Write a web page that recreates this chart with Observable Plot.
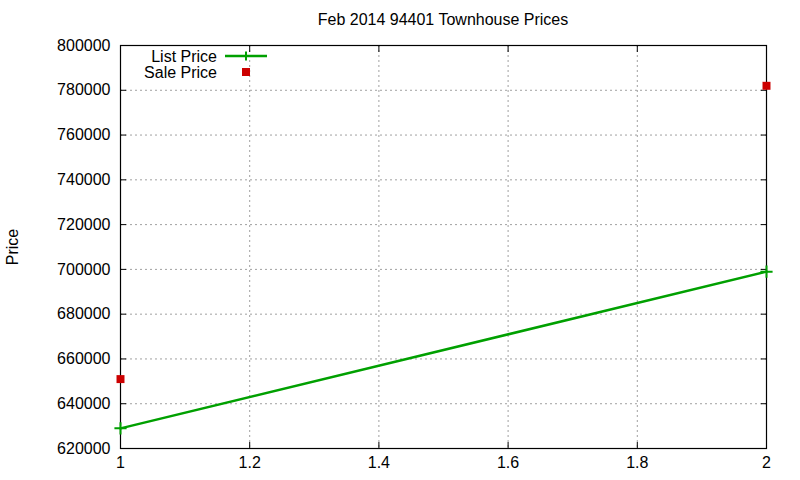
<!DOCTYPE html>
<html>
<head>
<meta charset="utf-8">
<script src="https://cdn.jsdelivr.net/npm/d3@7"></script>
<script src="https://cdn.jsdelivr.net/npm/@observablehq/plot@0.6"></script>
<style>
  html, body { margin: 0; padding: 0; background: #fff; }
  #wrap { position: relative; width: 800px; height: 480px; font-family: "Liberation Sans", Arial, sans-serif; }
  #title { position: absolute; top: 11px; left: 120px; width: 646px; text-align: center; font-size: 16px; color: #000; }
  #legend { position: absolute; left: 0; top: 0; pointer-events: none; }
</style>
</head>
<body>
<div id="wrap">
  <div id="chart"></div>
  <div id="title">Feb 2014 94401 Townhouse Prices</div>
  <svg id="legend" width="800" height="480"></svg>
</div>
<script>
const title = "Feb 2014 94401 Townhouse Prices";
const xValues = [1, 2];
const listPrice = [629000, 699000];
const salePrice = [651000, 782000];
const xTicks = [1, 1.2, 1.4, 1.6, 1.8, 2];
const yTicks = [620000, 640000, 660000, 680000, 700000, 720000, 740000, 760000, 780000, 800000];
const seriesNames = ["List Price", "Sale Price"];
const listColor = "#00a000";
const saleColor = "#cc0000";

const listData = xValues.map((x, i) => ({x, y: listPrice[i]}));
const saleData = xValues.map((x, i) => ({x, y: salePrice[i]}));

const fmtX = d => String(+d.toFixed(1));
const fmtY = d3.format("d");

const chart = Plot.plot({
  width: 800,
  height: 480,
  marginLeft: 120,
  marginRight: 34,
  marginTop: 45,
  marginBottom: 32,
  style: {fontFamily: "Liberation Sans, Arial, sans-serif", fontSize: "16px", color: "#000", background: "#fff"},
  x: {domain: [1, 2], ticks: xTicks},
  y: {domain: [620000, 800000], ticks: yTicks},
  marks: [
    Plot.gridX(xTicks, {stroke: "#a0a0a0", strokeOpacity: 1, strokeDasharray: "2,3"}),
    Plot.gridY(yTicks, {stroke: "#a0a0a0", strokeOpacity: 1, strokeDasharray: "2,3"}),
    Plot.axisX(xTicks, {anchor: "bottom", tickSize: -6, tickPadding: 14, tickFormat: fmtX, label: null, fontSize: 16}),
    Plot.axisX(xTicks, {anchor: "top", tickSize: -6, text: null, label: null}),
    Plot.axisY(yTicks, {anchor: "left", tickSize: -6, tickPadding: 16, tickFormat: fmtY, label: "Price", labelAnchor: "center", labelOffset: 114, labelArrow: "none", fontSize: 16}),
    Plot.axisY(yTicks, {anchor: "right", tickSize: -6, text: null, label: null}),
    Plot.frame({stroke: "#000", strokeWidth: 1.2}),
    Plot.line(listData, {x: "x", y: "y", stroke: listColor, strokeWidth: 2.5}),
    Plot.dot(listData, {x: "x", y: "y", symbol: "plus", r: 4, stroke: listColor, strokeWidth: 2}),
    Plot.dot(saleData, {x: "x", y: "y", symbol: "square", r: 4.5, fill: saleColor, stroke: "none"})
  ]
});
document.getElementById("chart").appendChild(chart);

// legend (gnuplot style, top-left inside the plot)
const lg = d3.select("#legend");
const rows = [
  {name: seriesNames[0], y: 56, kind: "line", color: listColor},
  {name: seriesNames[1], y: 72, kind: "point", color: saleColor}
];
rows.forEach(r => {
  lg.append("text").attr("x", 217).attr("y", r.y).attr("dy", "0.35em")
    .attr("text-anchor", "end").attr("font-size", 16)
    .attr("font-family", "Liberation Sans, Arial, sans-serif").text(r.name);
  if (r.kind === "line") {
    lg.append("line").attr("x1", 225).attr("x2", 267).attr("y1", r.y).attr("y2", r.y)
      .attr("stroke", r.color).attr("stroke-width", 2.5);
    lg.append("line").attr("x1", 246).attr("x2", 246).attr("y1", r.y - 4.5).attr("y2", r.y + 4.5)
      .attr("stroke", r.color).attr("stroke-width", 2);
  } else {
    lg.append("rect").attr("x", 242).attr("y", r.y - 4).attr("width", 8).attr("height", 8)
      .attr("fill", r.color);
  }
});
</script>
</body>
</html>
